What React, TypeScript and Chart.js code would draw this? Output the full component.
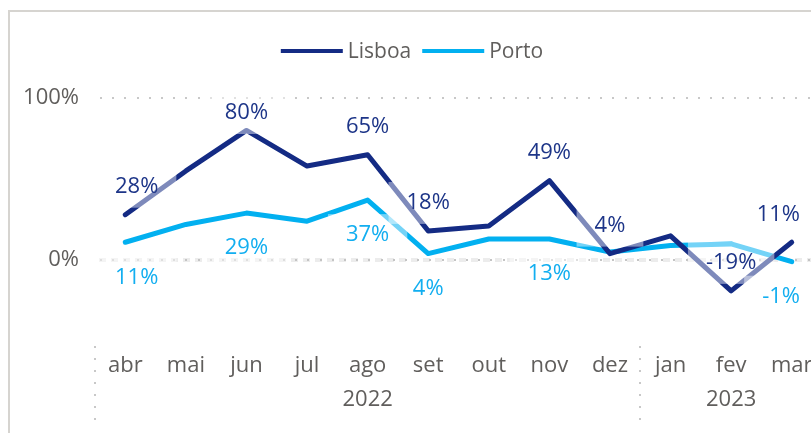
import React, { useEffect, useRef } from 'react';
import { Chart, registerables } from 'chart.js';

Chart.register(...registerables);

const months = ['abr', 'mai', 'jun', 'jul', 'ago', 'set', 'out', 'nov', 'dez', 'jan', 'fev', 'mar'];
const monthYears = ['2022', '2022', '2022', '2022', '2022', '2022', '2022', '2022', '2022', '2023', '2023', '2023'];
const lisboa = [28, 55, 80, 58, 65, 18, 21, 49, 4, 15, -19, 11];
const porto = [11, 22, 29, 24, 37, 4, 13, 13, 5, 9, 10, -1];
const lisboaLabelShown = [true, false, true, false, true, true, false, true, true, false, true, true];
const portoLabelShown = [true, false, true, false, true, true, false, true, false, false, false, true];
const yTickValues = [0, 100];
const yMin = -53;
const yMax = 100;

const FONT = "'Open Sans', 'Noto Sans', sans-serif";
const TEXT_GRAY = '#605E5C';
const LISBOA_COLOR = '#142B84';
const PORTO_COLOR = '#02B0F0';
const LISBOA_LABEL = '#1D3588';
const PORTO_LABEL = '#12AEF0';

const overlayPlugin = {
  id: 'overlay',
  beforeDatasetsDraw(chart: any) {
    const { ctx, chartArea: ca, scales } = chart;
    const ys = scales.y;
    ctx.save();
    // 100% dotted grid line
    const y100 = Math.round(ys.getPixelForValue(100));
    ctx.fillStyle = '#c8c8c8';
    for (let px = ca.left + 5; px < ca.right; px += 12.2) {
      ctx.fillRect(Math.round(px), y100 - 1, 2, 2);
    }
    // zero line
    const y0 = Math.round(ys.getPixelForValue(0));
    ctx.strokeStyle = '#ececec';
    ctx.lineWidth = 4;
    ctx.setLineDash([7, 5]);
    ctx.beginPath();
    ctx.moveTo(ca.left + 4, y0);
    ctx.lineTo(ca.right, y0);
    ctx.stroke();
    ctx.setLineDash([]);
    ctx.fillStyle = '#c4c4c4';
    for (let px = ca.left + 5; px < ca.right; px += 12.2) {
      ctx.fillRect(Math.round(px), y0 - 1, 2, 2);
    }
    ctx.restore();
  },
  afterDatasetsDraw(chart: any) {
    const { ctx, chartArea: ca } = chart;
    const specs = [
      { idx: 0, shown: lisboaLabelShown, offset: -28, color: LISBOA_LABEL },
      { idx: 1, shown: portoLabelShown, offset: 35, color: PORTO_LABEL },
    ];
    ctx.save();
    ctx.font = `22px ${FONT}`;
    const items: any[] = [];
    specs.forEach((s) => {
      const meta = chart.getDatasetMeta(s.idx);
      const data = chart.data.datasets[s.idx].data as number[];
      meta.data.forEach((pt: any, i: number) => {
        if (!s.shown[i]) return;
        const text = `${data[i]}%`;
        const w = ctx.measureText(text).width;
        let cx = pt.x;
        let cy = pt.y + s.offset;
        if (cy < ca.top + 15) cy = ca.top + 15;
        if (cx - w / 2 < ca.left + 20) cx = ca.left + 20 + w / 2;
        if (cx + w / 2 > 800) cx = 800 - w / 2;
        items.push({ text, w, cx, cy, color: s.color });
      });
    });
    // semi-transparent label backgrounds
    ctx.fillStyle = 'rgba(255,255,255,0.45)';
    items.forEach((it) => {
      ctx.fillRect(it.cx - it.w / 2 - 18, it.cy - 21, it.w + 36, 42);
    });
    ctx.textAlign = 'center';
    ctx.textBaseline = 'middle';
    items.forEach((it) => {
      ctx.fillStyle = it.color;
      ctx.fillText(it.text, it.cx, it.cy);
    });
    ctx.restore();
  },
  afterDraw(chart: any) {
    const { ctx, chartArea: ca, scales } = chart;
    const xs = scales.x;
    ctx.save();
    // legend
    ctx.font = `21px ${FONT}`;
    ctx.textBaseline = 'middle';
    ctx.textAlign = 'left';
    const lineLen = 62;
    const gapText = 5;
    const gapItem = 11;
    const ds = chart.data.datasets;
    const widths = ds.map((d: any) => ctx.measureText(d.label).width);
    let total = 0;
    widths.forEach((w: number, i: number) => {
      total += lineLen + gapText + w + (i < widths.length - 1 ? gapItem : 0);
    });
    let lx = 412 - total / 2;
    const ly = 51;
    ds.forEach((d: any, i: number) => {
      ctx.strokeStyle = d.borderColor;
      ctx.lineWidth = 4;
      ctx.beginPath();
      ctx.moveTo(lx, ly);
      ctx.lineTo(lx + lineLen, ly);
      ctx.stroke();
      ctx.fillStyle = TEXT_GRAY;
      ctx.fillText(d.label, lx + lineLen + gapText, ly + 1);
      lx += lineLen + gapText + widths[i] + gapItem;
    });

    // year groups and separators
    ctx.font = `22px ${FONT}`;
    ctx.textAlign = 'center';
    ctx.fillStyle = TEXT_GRAY;
    const groups: { year: string; start: number; end: number }[] = [];
    monthYears.forEach((yr, i) => {
      const g = groups[groups.length - 1];
      if (g && g.year === yr) g.end = i;
      else groups.push({ year: yr, start: i, end: i });
    });
    const half = (xs.getPixelForValue(1) - xs.getPixelForValue(0)) / 2;
    const sepTop = ca.bottom;
    const sepBottom = ca.bottom + 74;
    const yearY = ca.bottom + 54;
    groups.forEach((g) => {
      const x0 = xs.getPixelForValue(g.start);
      const x1 = xs.getPixelForValue(g.end);
      ctx.fillStyle = TEXT_GRAY;
      ctx.fillText(g.year, (x0 + x1) / 2, yearY);
      const sx = Math.round(x0 - half) - 1;
      ctx.fillStyle = '#c8c8c8';
      for (let py = sepTop; py <= sepBottom; py += 12) {
        ctx.fillRect(sx, Math.round(py), 2, 2);
      }
    });
    ctx.restore();
  },
};

export default function App() {
  const canvasRef = useRef<HTMLCanvasElement | null>(null);

  useEffect(() => {
    const canvas = canvasRef.current;
    if (!canvas) return;
    const chart = new Chart(canvas, {
      type: 'line',
      data: {
        labels: months,
        datasets: [
          {
            label: 'Lisboa',
            data: lisboa,
            borderColor: LISBOA_COLOR,
            backgroundColor: LISBOA_COLOR,
            borderWidth: 5,
            pointRadius: 0,
            tension: 0,
            borderCapStyle: 'round',
            borderJoinStyle: 'round',
          },
          {
            label: 'Porto',
            data: porto,
            borderColor: PORTO_COLOR,
            backgroundColor: PORTO_COLOR,
            borderWidth: 5,
            pointRadius: 0,
            tension: 0,
            borderCapStyle: 'round',
            borderJoinStyle: 'round',
          },
        ],
      },
      options: {
        responsive: false,
        devicePixelRatio: 1,
        animation: false,
        events: [],
        layout: { padding: { top: 98, right: 28, bottom: 0, left: 0 } },
        plugins: {
          legend: { display: false },
          tooltip: { enabled: false },
          title: { display: false },
        },
        scales: {
          x: {
            type: 'category',
            offset: true,
            grid: { display: false, drawTicks: false },
            border: { display: false },
            ticks: {
              font: { family: FONT, size: 22 },
              color: TEXT_GRAY,
              padding: 7,
              maxRotation: 0,
              autoSkip: false,
            },
            afterFit(scale: any) {
              scale.height = 87;
            },
          },
          y: {
            min: yMin,
            max: yMax,
            grid: { display: false, drawTicks: false },
            border: { display: false },
            ticks: {
              font: { family: FONT, size: 22 },
              color: TEXT_GRAY,
              padding: 16,
              callback: (v: any) => `${v}%`,
            },
            afterBuildTicks(scale: any) {
              scale.ticks = yTickValues.map((v) => ({ value: v }));
            },
            afterFit(scale: any) {
              scale.width = 95;
            },
          },
        },
      },
      plugins: [overlayPlugin],
    } as any);
    return () => chart.destroy();
  }, []);

  return (
    <div
      style={{
        position: 'absolute',
        left: 0,
        top: 0,
        width: 811,
        height: 433,
        overflow: 'hidden',
        background: '#ffffff',
      }}
    >
      <div
        style={{
          position: 'absolute',
          left: 8,
          top: 10,
          width: 1000,
          height: 1000,
          borderLeft: '2px solid #d6d4d0',
          borderTop: '2px solid #d6d4d0',
        }}
      />
      <canvas
        ref={canvasRef}
        width={850}
        height={433}
        style={{ position: 'absolute', left: 0, top: 0, width: 850, height: 433 }}
      />
    </div>
  );
}
